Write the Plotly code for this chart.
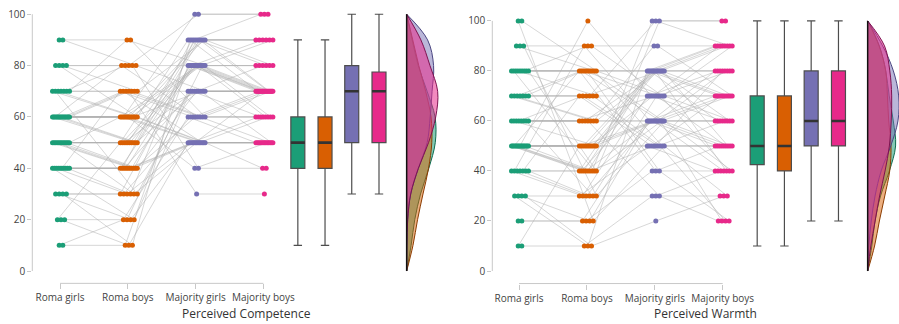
import math
import statistics
import plotly.graph_objects as go

categories = ["Roma girls", "Roma boys", "Majority girls", "Majority boys"]
colors = ["#1b9e77", "#d95f02", "#7570b3", "#e7298a"]
fill_rgba = ["rgba(27,158,119,0.55)", "rgba(217,95,2,0.5)", "rgba(117,112,179,0.5)", "rgba(231,41,138,0.55)"]
dark_lines = ["#0f6b50", "#8c3d02", "#4a4680", "#7e1250"]
panel_titles = ["Perceived Competence", "Perceived Warmth"]
y_ticks = [0, 20, 40, 60, 80, 100]

# ---- Perceived Competence (one row per participant, same order in every list)
comp_roma_girls = [10, 10, 20, 20, 20, 30, 30, 30, 30, 40,
                   40, 40, 40, 40, 40, 40, 40, 40, 40, 50,
                   50, 50, 50, 50, 50, 50, 50, 50, 50, 50,
                   50, 60, 60, 60, 60, 60, 60, 60, 60, 60,
                   60, 60, 60, 60, 60, 60, 70, 70, 70, 70,
                   70, 70, 70, 80, 80, 80, 80, 90, 90]
comp_roma_boys = [20, 10, 50, 10, 20, 30, 20, 10, 30, 20,
                  40, 30, 40, 40, 70, 40, 40, 30, 40, 40,
                  50, 40, 50, 50, 40, 30, 50, 50, 40, 50,
                  60, 50, 60, 80, 60, 50, 60, 60, 50, 60,
                  70, 60, 60, 70, 60, 70, 60, 30, 60, 70,
                  80, 70, 90, 80, 60, 70, 80, 90, 80]
comp_majority_girls = [60, 80, 90, 50, 70, 80, 50, 90, 60, 70,
                       80, 50, 90, 70, 60, 80, 50, 90, 50, 80,
                       80, 50, 70, 80, 60, 50, 90, 80, 70, 50,
                       80, 90, 50, 60, 100, 70, 80, 50, 90, 40,
                       50, 90, 80, 60, 70, 30, 90, 80, 50, 60,
                       80, 70, 80, 100, 50, 90, 40, 60, 70]
comp_majority_boys = [50, 80, 90, 50, 70, 70, 50, 70, 60, 70,
                      70, 60, 90, 60, 70, 90, 50, 100, 50, 70,
                      70, 70, 70, 80, 60, 50, 90, 70, 80, 50,
                      60, 80, 60, 70, 100, 70, 70, 50, 70, 50,
                      50, 90, 90, 50, 50, 30, 70, 70, 50, 70,
                      60, 70, 80, 100, 40, 80, 40, 60, 70]

# ---- Perceived Warmth
warm_roma_girls = [10, 10, 20, 20, 30, 30, 30, 30, 40, 40,
                   40, 40, 40, 40, 40, 50, 50, 50, 50, 50,
                   50, 50, 50, 50, 50, 50, 50, 50, 50, 50,
                   60, 60, 60, 60, 60, 60, 60, 60, 70, 70,
                   70, 70, 70, 70, 70, 80, 80, 80, 80, 80,
                   80, 80, 80, 80, 90, 90, 90, 100, 100]
warm_roma_boys = [50, 10, 20, 20, 10, 30, 20, 10, 30, 90,
                  40, 30, 70, 40, 30, 40, 40, 80, 40, 40,
                  50, 50, 100, 50, 50, 50, 40, 50, 50, 50,
                  60, 50, 60, 70, 60, 60, 30, 60, 60, 60,
                  80, 70, 70, 80, 70, 80, 40, 80, 70, 80,
                  80, 90, 80, 40, 80, 90, 30, 20, 80]
warm_majority_girls = [50, 30, 60, 40, 80, 50, 60, 20, 70, 60,
                       80, 60, 50, 70, 30, 80, 60, 40, 80, 50,
                       60, 80, 70, 50, 80, 60, 100, 70, 80, 60,
                       70, 80, 60, 50, 80, 30, 70, 60, 90, 80,
                       60, 80, 100, 70, 50, 80, 60, 40, 70, 80,
                       60, 90, 80, 100, 50, 70, 60, 50, 70]
warm_majority_boys = [40, 30, 60, 40, 90, 50, 70, 30, 70, 50,
                      70, 80, 70, 80, 40, 60, 60, 50, 90, 50,
                      40, 80, 60, 80, 70, 70, 100, 90, 40, 50,
                      70, 90, 80, 60, 80, 20, 50, 60, 90, 60,
                      20, 90, 90, 80, 20, 70, 70, 20, 40, 50,
                      50, 70, 80, 100, 50, 90, 40, 30, 60]

panels = [
    [comp_roma_girls, comp_roma_boys, comp_majority_girls, comp_majority_boys],
    [warm_roma_girls, warm_roma_boys, warm_majority_girls, warm_majority_boys],
]

# ---- layout geometry (pixels of the 899x324 canvas)
W, H = 899, 324
geo = [
    dict(x_left=32.3, x_right=445.0, cat0=60.0, step=67.8, y0px=270.7, y100px=12.3,
         axis_px=283.1, top_px=7.1, title_x=246, violin_pos=5.113),
    dict(x_left=492.3, x_right=899.0, cat0=519.0, step=67.9, y0px=270.7, y100px=19.0,
         axis_px=283.3, top_px=10.0, title_x=705, violin_pos=5.135),
]
box_pos = [3.508, 3.909, 4.303, 4.705]
box_width_px = 14
density_max_px = 31
density_grid = list(range(0, 101, 10))
density_bw = 10.0


def jitter_offsets(vals, step):
    offs = [0.0] * len(vals)
    groups = {}
    for i, v in enumerate(vals):
        groups.setdefault(v, []).append(i)
    for v, idxs in groups.items():
        k = len(idxs)
        half = min(8.5, 1.8 * (k - 1))
        for j, i in enumerate(idxs):
            t = 0.0 if k == 1 else -half + 2 * half * j / (k - 1)
            offs[i] = (t + 1.0) / step
    return offs


def kde(vals, grid, bw):
    out = []
    for gy in grid:
        out.append(sum(math.exp(-0.5 * ((gy - v) / bw) ** 2) for v in vals))
    out[0] = 0.0
    out[-1] = 0.0
    return out


fig = go.Figure()
layout = dict(width=W, height=H, margin=dict(l=0, r=0, t=0, b=0),
              paper_bgcolor="white", plot_bgcolor="white", showlegend=False,
              font=dict(family="Open Sans", size=10, color="#444"))
shapes = []
annotations = []
tick_font = dict(family="Open Sans", size=10, color="#444")

for p, (groups, g) in enumerate(zip(panels, geo)):
    xa = "x" if p == 0 else "x2"
    ya = "y" if p == 0 else "y2"
    xkey = "xaxis" if p == 0 else "xaxis2"
    ykey = "yaxis" if p == 0 else "yaxis2"
    step = g["step"]
    ppu = (g["y0px"] - g["y100px"]) / 100.0
    y_lo = -(g["axis_px"] - g["y0px"]) / ppu
    y_hi = 100 + (g["y100px"] - g["top_px"]) / ppu
    x_lo = (g["x_left"] - g["cat0"]) / step
    x_hi = (g["x_right"] - g["cat0"]) / step

    offs = [jitter_offsets(vals, step) for vals in groups]
    n = len(groups[0])
    lx, ly = [], []
    for i in range(n):
        for c in range(4):
            lx.append(c + offs[c][i])
            ly.append(groups[c][i])
        lx.append(None)
        ly.append(None)
    fig.add_trace(go.Scatter(x=lx, y=ly, mode="lines", xaxis=xa, yaxis=ya,
                             line=dict(color="rgba(175,175,175,0.5)", width=1),
                             hoverinfo="skip", cliponaxis=False))
    for c in range(4):
        fig.add_trace(go.Scatter(x=[c + o for o in offs[c]], y=groups[c], mode="markers",
                                 xaxis=xa, yaxis=ya, cliponaxis=False, hoverinfo="skip",
                                 marker=dict(color=colors[c], size=5, line=dict(width=0))))
    bw_units = box_width_px / step
    for c in range(4):
        fig.add_trace(go.Box(y=groups[c], x0=box_pos[c], width=bw_units,
                             xaxis=xa, yaxis=ya, boxpoints=False, whiskerwidth=0.6,
                             fillcolor=colors[c], line=dict(color="#4d4d4d", width=1.2),
                             hoverinfo="skip"))
        med = statistics.median(groups[c])
        fig.add_trace(go.Scatter(x=[box_pos[c] - bw_units / 2, box_pos[c] + bw_units / 2],
                                 y=[med, med], mode="lines", xaxis=xa, yaxis=ya,
                                 line=dict(color="#333333", width=2.6), hoverinfo="skip"))
    base = g["violin_pos"]
    dens = [kde(vals, density_grid, density_bw) for vals in groups]
    top = max(max(d) for d in dens)
    for c in range(4):
        xs = [base + di / top * density_max_px / step for di in dens[c]]
        fig.add_trace(go.Scatter(x=xs, y=density_grid, mode="lines", fill="toself",
                                 fillcolor=fill_rgba[c], xaxis=xa, yaxis=ya,
                                 line=dict(color=dark_lines[c], width=1, shape="spline",
                                           smoothing=1.0),
                                 hoverinfo="skip", cliponaxis=False))
    # density baseline
    shapes.append(dict(type="line", xref=xa, yref=ya, x0=base, x1=base,
                       y0=0, y1=100, line=dict(color="#111", width=1.5)))
    # d3-style axis domain lines
    shapes.append(dict(type="line", xref=xa + " domain", yref=ya, x0=0, x1=0, y0=0, y1=100,
                       line=dict(color="#c8c8c8", width=1)))
    shapes.append(dict(type="line", xref=xa, yref=ya + " domain", x0=0, x1=3, y0=0, y1=0,
                       line=dict(color="#c8c8c8", width=1)))
    layout[xkey] = dict(domain=[g["x_left"] / W, g["x_right"] / W], range=[x_lo, x_hi],
                        anchor=ya, tickvals=[0, 1, 2, 3], ticktext=categories,
                        ticks="outside", ticklen=5, tickcolor="#c8c8c8", showline=False,
                        showgrid=False, zeroline=False, tickfont=tick_font, fixedrange=True)
    layout[ykey] = dict(domain=[1 - g["axis_px"] / H, 1 - g["top_px"] / H], range=[y_lo, y_hi],
                        anchor=xa, tickvals=y_ticks, ticks="outside", ticklen=4,
                        tickcolor="#c8c8c8", showline=False, showgrid=False, zeroline=False,
                        tickfont=tick_font, fixedrange=True)
    annotations.append(dict(text=panel_titles[p], xref="paper", yref="paper",
                            x=g["title_x"] / W, y=1 - 313 / H, showarrow=False,
                            xanchor="center", yanchor="middle",
                            font=dict(family="Open Sans", size=12, color="#333")))

layout["shapes"] = shapes
layout["annotations"] = annotations
layout["boxmode"] = "overlay"
layout["hovermode"] = False
fig.update_layout(**layout)
fig.write_html("out.html", config={"displayModeBar": False},
               post_script="document.body.style.margin='0px';document.body.style.padding='0px';"
                           "document.body.style.overflow='hidden';")
